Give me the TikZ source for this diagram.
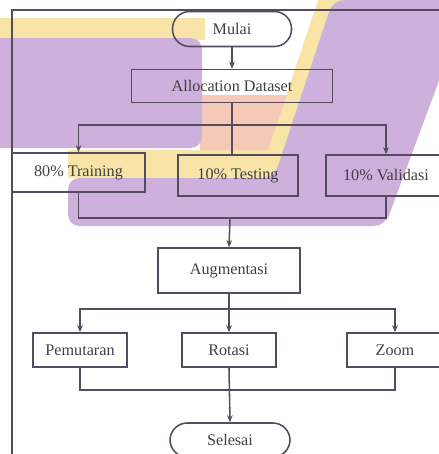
\documentclass[tikz,border=0pt]{standalone}
\usepackage{fontspec}
\setmainfont{Liberation Serif}
\usepackage{xcolor}
\usetikzlibrary{arrows.meta}

\definecolor{lavender}{RGB}{206,176,220}
\definecolor{sand}{RGB}{248,228,166}
\definecolor{peach}{RGB}{244,202,182}
\definecolor{inkline}{RGB}{84,76,94}

\tikzset{
  box/.style={draw=inkline, line width=1.1pt, inner sep=2pt,
    font=\fontsize{11.5}{13}\selectfont, text=black!75},
  terminal/.style={box, rounded corners=0.43cm},
  link/.style={draw=inkline, line width=1.1pt},
  arr/.style={link, -{Stealth[length=5pt,width=4pt]}}
}

\begin{document}
\begin{tikzpicture}[x=0.025cm,y=-0.025cm]
  \useasboundingbox (0,0) rectangle (439,454);
  \clip (0,0) rectangle (439,454);
  % background shapes
  \fill[sand] (0,18) rectangle (205,40);
  \fill[sand] (318,0) -- (342,0) -- (276,178) -- (68,178) -- (68,150) -- (268,150) -- cycle;
  \fill[peach] (200,95) -- (287,95) -- (268,150) -- (200,150) -- cycle;
  \fill[lavender, rounded corners=8pt] (-10,38) rectangle (202,148);
  \fill[lavender, rounded corners=8pt] (333,0) -- (469,0) -- (385,226)
      -- (68,226) -- (68,178) -- (274,178) -- cycle;
  % frame
  \draw[link] (12,454) -- (12,10) -- (439,10);

  \node[terminal, minimum width=2.975cm, minimum height=0.875cm] (mulai) at (232,29) {Mulai};
  \node[box, minimum width=5.025cm, minimum height=0.825cm] (alloc) at (232,86) {Allocation Dataset};
  \node[box, minimum width=3.325cm, minimum height=0.975cm] (train) at (78.5,172.5) {80\% Training};
  \node[box, minimum width=3.0cm, minimum height=1.025cm] (test) at (238,175.5) {10\% Testing};
  \node[box, minimum width=3.0cm, minimum height=1.025cm] (valid) at (386,175.5) {10\% Validasi};
  \node[box, minimum width=3.55cm, minimum height=1.125cm] (aug) at (229,270.5) {Augmentasi};
  \node[box, minimum width=2.35cm, minimum height=0.85cm] (pem) at (80,350) {Pemutaran};
  \node[box, minimum width=2.35cm, minimum height=0.85cm] (rot) at (229,350) {Rotasi};
  \node[box, minimum width=2.4cm, minimum height=0.85cm] (zoom) at (395,350) {Zoom};
  \node[terminal, minimum width=3.0cm, minimum height=0.85cm] (selesai) at (230,440) {Selesai};

  \coordinate (split1) at (232,125);
  \coordinate (join1) at (230,218);
  \coordinate (split2) at (229,309);
  \coordinate (join2) at (229,390);

  \draw[arr] (mulai) -- (alloc);
  \draw[link] (alloc.south) -- (alloc.south |- test.north);
  \draw[arr] (split1) -| (train.north);
  \draw[arr] (split1) -| (valid.north);
  \draw[link] (train.south) |- (join1) -| (valid.south);
  \draw[arr] (join1) -- (aug.north);

  \draw[link] (aug.south) -- (split2);
  \draw[arr] (split2) -| (pem.north);
  \draw[arr] (split2) -- (rot.north);
  \draw[arr] (split2) -| (zoom.north);
  \draw[link] (pem.south) |- (join2) -| (zoom.south);
  \draw[arr] (rot.south) -- (selesai.north);
\end{tikzpicture}
\end{document}
